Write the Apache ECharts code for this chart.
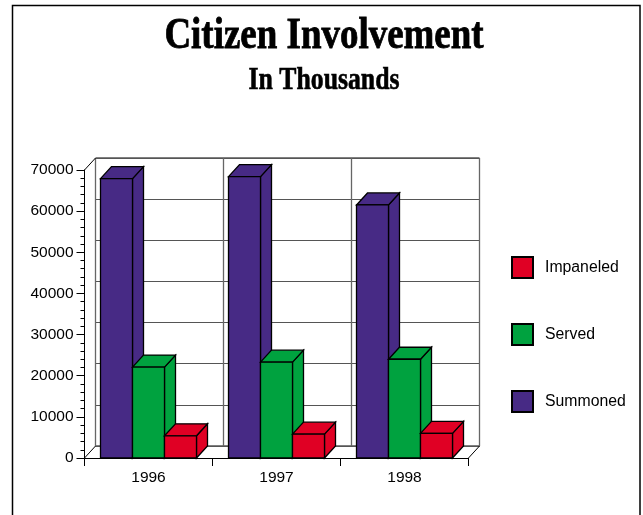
<!DOCTYPE html>
<html><head><meta charset="utf-8">
<style>html,body{margin:0;padding:0;background:#fff}#c{width:643px;height:515px}</style>
<script src="https://cdn.jsdelivr.net/npm/echarts@6/dist/echarts.min.js"></script>
</head><body><div id="c"></div>
<script>
const years = ['1996','1997','1998'];
const summoned = [67900,68400,61500];
const served = [22100,23300,24000];
const impaneled = [5400,5800,6000];
const legendNames = ['Impaneled','Served','Summoned'];
const DX = 11, DY = -12;
function bar3d(slot){
  return function(params, api){
    const idx = api.value(0), v = api.value(1);
    const band = api.size([1,0])[0];
    const w = band/4;
    const c = api.coord([idx, v]);
    const b = api.coord([idx, 0]);
    const x0 = c[0] - band/2 + band*0.125 + slot*w, x1 = x0 + w;
    const yt = c[1], yb = b[1];
    const st = {fill: api.visual('color'), stroke:'#000', lineWidth:1.3};
    const poly = pts => ({type:'polygon', shape:{points:pts}, style:st});
    return {type:'group', children:[
      poly([[x1,yt],[x1+DX,yt+DY],[x1+DX,yb+DY],[x1,yb]]),
      poly([[x0,yt],[x0+DX,yt+DY],[x1+DX,yt+DY],[x1,yt]]),
      poly([[x0,yt],[x1,yt],[x1,yb],[x0,yb]])
    ]};
  };
}
function series3d(name, data, slot, color){
  return {type:'custom', name, xAxisIndex:0, yAxisIndex:0, z:5, clip:false,
    itemStyle:{color, borderColor:'#000', borderWidth:1.5},
    encode:{x:0,y:1},
    data:data.map((v,i)=>[i,v]), renderItem:bar3d(slot)};
}
const L=84.5,R=468.5,T=170,B=458;
const chart = echarts.init(document.getElementById('c'),null,{renderer:'canvas'});
const lineK={lineStyle:{color:'#000',width:1}};
const titleFont = '"Liberation Serif"';
chart.setOption({
  animation:false,
  backgroundColor:'#fff',
  graphic:[
    {type:'polyline',z:-10,shape:{points:[[12.5,515],[12.5,5.5],[640,5.5],[640,515]]},style:{fill:'none',stroke:'#000',lineWidth:1.5}},
    {type:'text',x:324,y:37,scaleX:0.84,style:{text:'Citizen Involvement',font:'bold 44px '+titleFont,fill:'#000',stroke:'#000',lineWidth:0.8,align:'center',verticalAlign:'middle'}},
    {type:'text',x:324,y:81,scaleX:0.83,style:{text:'In Thousands',font:'bold 31px '+titleFont,fill:'#000',stroke:'#000',lineWidth:0.6,align:'center',verticalAlign:'middle'}},
    {type:'polyline',z:1,shape:{points:[[L,B],[L+DX,B+DY]]},style:{stroke:'#000',fill:'none',lineWidth:1}},
    {type:'polyline',z:1,shape:{points:[[R,B],[R+DX,B+DY]]},style:{stroke:'#000',fill:'none',lineWidth:1}},
    {type:'polyline',z:1,shape:{points:[[L,T],[L+DX,T+DY]]},style:{stroke:'#000',fill:'none',lineWidth:1}}
  ],
  legend:{data:legendNames,orient:'vertical',left:506,top:251,itemWidth:21,itemHeight:21,itemGap:44,icon:'rect',
    textStyle:{fontFamily:'Liberation Sans',fontSize:15.8,color:'#000',padding:[0,0,0,7]}},
  grid:[
    {left:L,top:T,width:R-L,height:B-T,show:false},
    {left:L+DX,top:T+DY,width:R-L,height:B-T,show:true,borderColor:'#000',borderWidth:1,backgroundColor:'transparent'}
  ],
  xAxis:[
    {type:'category',gridIndex:0,data:years,boundaryGap:true,
      axisLine:{show:true,onZero:false,...lineK},
      axisTick:{show:true,length:8,alignWithLabel:false,...lineK},
      axisLabel:{fontFamily:'Liberation Sans',fontSize:15.5,color:'#000',margin:12},splitLine:{show:false}},
    {type:'category',gridIndex:1,data:years,boundaryGap:true,
      axisLine:{show:false},axisTick:{show:false},axisLabel:{show:false},
      splitLine:{show:true,lineStyle:{color:'#666',width:1.3}}}
  ],
  yAxis:[
    {type:'value',gridIndex:0,min:0,max:70000,interval:10000,
      axisLine:{show:true,...lineK},
      axisTick:{show:true,length:8,...lineK},
      minorTick:{show:true,splitNumber:5,length:4,lineStyle:{color:'#000',width:1}},
      axisLabel:{fontFamily:'Liberation Sans',fontSize:15.5,color:'#000',margin:11,formatter:v=>String(v)},splitLine:{show:false}},
    {type:'value',gridIndex:1,min:0,max:70000,interval:10000,
      axisLine:{show:false},axisTick:{show:false},axisLabel:{show:false},
      splitLine:{show:true,lineStyle:{color:'#555',width:1.2}}}
  ],
  series:[
    series3d('Summoned',summoned,0,'#472a85'),
    series3d('Served',served,1,'#00a23f'),
    series3d('Impaneled',impaneled,2,'#e00024')
  ]
});
</script></body></html>
